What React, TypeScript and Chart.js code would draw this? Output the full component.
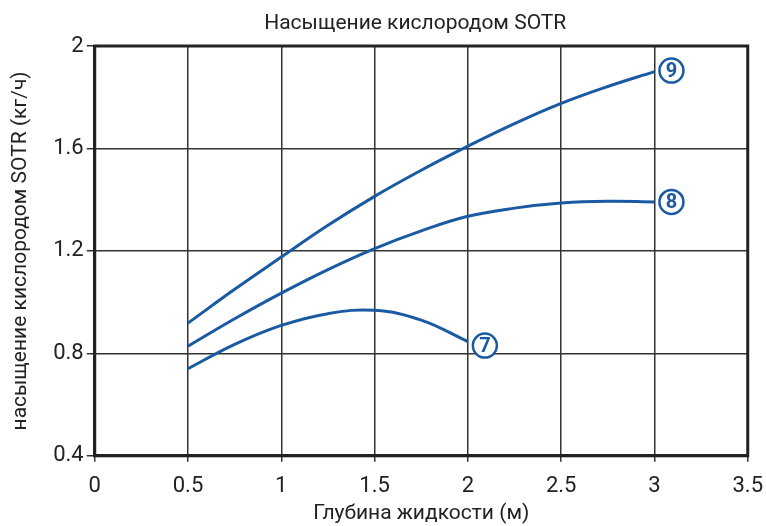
import React, { useEffect, useRef } from "react";
import { Chart, registerables } from "chart.js";

Chart.register(...registerables);

const chartTitle = "Насыщение кислородом SOTR";
const xTitle = "Глубина жидкости (м)";
const yTitle = "насыщение кислородом SOTR (кг/ч)";
const depth9 = [0.5, 0.75, 1, 1.25, 1.5, 1.75, 2, 2.25, 2.5, 2.75, 3];
const sotr9 = [0.918, 1.05, 1.176, 1.3, 1.413, 1.515, 1.609, 1.697, 1.776, 1.842, 1.9];
const depth8 = [0.5, 0.75, 1, 1.25, 1.5, 1.75, 2, 2.25, 2.5, 2.75, 3];
const sotr8 = [0.828, 0.935, 1.035, 1.127, 1.209, 1.278, 1.335, 1.367, 1.387, 1.394, 1.391];
const depth7 = [0.5, 0.75, 1, 1.25, 1.5, 1.75, 2];
const sotr7 = [0.74, 0.835, 0.909, 0.955, 0.968, 0.93, 0.846];
const seriesLabels = ["9", "8", "7"];
const xTicks = [0, 0.5, 1, 1.5, 2, 2.5, 3, 3.5];
const yTicks = [0.4, 0.8, 1.2, 1.6, 2];

const BLUE = "#1a5aa3";
const FONT = "Roboto";

const badgePlugin = {
  id: "badges",
  afterDatasetsDraw(chart: any) {
    const ctx = chart.ctx;
    const dy = [-1, 0, 4];
    chart.data.datasets.forEach((ds: any, i: number) => {
      const meta = chart.getDatasetMeta(i);
      const last = meta.data[meta.data.length - 1];
      const cx = last.x + 17;
      const cy = last.y + dy[i];
      ctx.save();
      ctx.beginPath();
      ctx.arc(cx, cy, 12, 0, Math.PI * 2);
      ctx.fillStyle = "#fff";
      ctx.fill();
      ctx.lineWidth = 2.5;
      ctx.strokeStyle = BLUE;
      ctx.stroke();
      ctx.fillStyle = BLUE;
      ctx.font = `bold 20px ${FONT}`;
      ctx.textAlign = "center";
      ctx.textBaseline = "middle";
      ctx.fillText(seriesLabels[i], cx, cy + 1);
      ctx.restore();
    });
  },
};

const framePlugin = {
  id: "frame",
  afterDraw(chart: any) {
    const { ctx, chartArea } = chart;
    ctx.save();
    ctx.lineWidth = 3;
    ctx.strokeStyle = "#222";
    ctx.strokeRect(chartArea.left, chartArea.top, chartArea.right - chartArea.left, chartArea.bottom - chartArea.top);
    ctx.fillStyle = "#222";
    ctx.font = `21px ${FONT}`;
    ctx.textAlign = "center";
    ctx.textBaseline = "alphabetic";
    ctx.fillText(chartTitle, (chartArea.left + chartArea.right) / 2 - 6, 29);
    ctx.restore();
  },
};

export default function App() {
  const ref = useRef<HTMLCanvasElement>(null);
  useEffect(() => {
    const mk = (xs: number[], ys: number[]) => xs.map((x, i) => ({ x, y: ys[i] }));
    const line = (data: any) => ({
      data,
      borderColor: BLUE,
      borderWidth: 3,
      pointRadius: 0,
      fill: false,
      tension: 0.4,
    });
    const chart = new Chart(ref.current!, {
      type: "line",
      data: {
        datasets: [line(mk(depth9, sotr9)), line(mk(depth8, sotr8)), line(mk(depth7, sotr7))],
      },
      plugins: [badgePlugin, framePlugin],
      options: {
        animation: false,
        responsive: false,
        layout: { padding: { left: 8, right: 0, top: 46, bottom: 0 } },
        plugins: {
          legend: { display: false },
          tooltip: { enabled: false },
          title: { display: false },
        },
        scales: {
          x: {
            type: "linear",
            min: 0,
            max: 3.5,
            afterBuildTicks: (axis: any) => {
              axis.ticks = xTicks.map((v) => ({ value: v }));
            },
            ticks: {
              color: "#222",
              font: { family: FONT, size: 22, lineHeight: 2 },
              padding: 3,
              callback: (v: any) => String(v),
            },
            grid: { color: "#333", lineWidth: 1.5, tickLength: 6 },
            border: { color: "#222", width: 3 },
            title: {
              display: true,
              text: xTitle,
              color: "#222",
              font: { family: FONT, size: 21 },
              padding: { top: -11, bottom: 0 },
            },
          },
          y: {
            type: "linear",
            min: 0.4,
            max: 2,
            afterBuildTicks: (axis: any) => {
              axis.ticks = yTicks.map((v) => ({ value: v }));
            },
            ticks: { color: "#222", font: { family: FONT, size: 22 }, padding: 3, callback: (v: any) => String(v) },
            grid: { color: "#333", lineWidth: 1.5, tickLength: 8 },
            border: { color: "#222", width: 3 },
            title: {
              display: true,
              text: yTitle,
              color: "#222",
              font: { family: FONT, size: 21 },
              padding: { top: 0, bottom: 17 },
            },
          },
        },
      },
    });
    return () => chart.destroy();
  }, []);
  return (
    <div style={{ position: "fixed", left: 0, top: 0, width: 766, height: 526, background: "#fff" }}>
      <canvas ref={ref} width={766} height={526} />
    </div>
  );
}
